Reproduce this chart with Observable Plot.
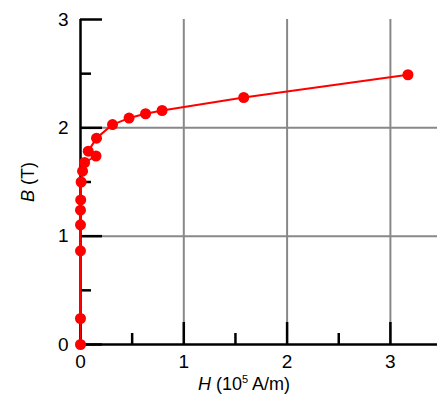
<!DOCTYPE html>
<html>
<head>
<meta charset="utf-8">
<script src="https://cdn.jsdelivr.net/npm/d3@7"></script>
<script src="https://cdn.jsdelivr.net/npm/@observablehq/plot@0.6"></script>
<style>
  html, body { margin: 0; padding: 0; background: #fff; }
  svg { display: block; }
</style>
</head>
<body>
<div id="chart"></div>
<script>
// Magnetisation curve data (H in 10^5 A/m, B in T)
const H = [0, 0, 0, 0, 0, 0.002, 0.006, 0.02, 0.04, 0.15, 0.075, 0.155, 0.31, 0.47, 0.63, 0.79, 1.58, 3.17];
const B = [0, 0.24, 0.865, 1.105, 1.24, 1.335, 1.50, 1.60, 1.68, 1.74, 1.785, 1.905, 2.03, 2.09, 2.13, 2.16, 2.28, 2.49];

const xMajor = [0, 1, 2, 3];
const xMinor = [0.5, 1.5, 2.5];
const yMajor = [0, 1, 2, 3];
const yMinor = [0.5, 1.5, 2.5];
const xGrid = [1, 2, 3];
const yGrid = [1, 2];

const xTitle = "H (10^5 A/m)";
const yTitle = "B (T)";

const data = H.map((h, i) => ({H: h, B: B[i]}));

const font = "'Liberation Sans', Arial, sans-serif";

const chart = Plot.plot({
  width: 437,
  height: 399,
  marginLeft: 80,
  marginRight: 0,
  marginTop: 19,
  marginBottom: 55,
  style: {fontFamily: font, fontSize: "19px", color: "#000", background: "#fff"},
  x: {domain: [0, 3.456]},
  y: {domain: [0, 3]},
  marks: [
    // grid
    Plot.ruleX(xGrid, {stroke: "#888", strokeWidth: 2}),
    Plot.ruleY(yGrid, {stroke: "#888", strokeWidth: 2}),
    // inward ticks
    Plot.axisY({ticks: yMajor, tickSize: -22, tickFormat: () => "", label: null, strokeWidth: 2.5, stroke: "#000"}),
    Plot.axisY({ticks: yMinor, tickSize: -11, tickFormat: () => "", label: null, strokeWidth: 2.5, stroke: "#000"}),
    Plot.axisX({ticks: xMajor, tickSize: -22, tickFormat: () => "", label: null, strokeWidth: 2.5, stroke: "#000"}),
    Plot.axisX({ticks: xMinor, tickSize: -11, tickFormat: () => "", label: null, strokeWidth: 2.5, stroke: "#000"}),
    // tick labels + titles
    Plot.axisY({ticks: yMajor, tickSize: 0, tickPadding: 12, tickFormat: d3.format("d"), label: yTitle, labelAnchor: "center", labelOffset: 59, labelArrow: "none", fontSize: 19}),
    Plot.axisX({ticks: xMajor, tickSize: 0, tickPadding: 10, tickFormat: d3.format("d"), label: xTitle, labelAnchor: "center", labelOffset: 45, labelArrow: "none", fontSize: 19}),
    // axis lines
    Plot.ruleX([0], {stroke: "#000", strokeWidth: 2.5}),
    Plot.ruleY([0], {stroke: "#000", strokeWidth: 2.5}),
    // data
    Plot.line(data, {x: "H", y: "B", stroke: "#ff0000", strokeWidth: 2}),
    Plot.dot(data, {x: "H", y: "B", r: 5.5, fill: "#ff0000", stroke: "none"})
  ]
});

document.getElementById("chart").appendChild(chart);

// Rich-text axis titles (italic symbol, superscript exponent)
const svg = d3.select(chart);
const xl = svg.select('g[aria-label="x-axis label"] text');
if (!xl.empty()) {
  xl.text(null).attr("dx", -15).attr("font-size", "18px");
  xl.append("tspan").attr("font-style", "italic").text("H");
  xl.append("tspan").text(" (10");
  xl.append("tspan").attr("font-size", "11px").attr("dy", "-7").text("5");
  xl.append("tspan").attr("dy", "7").text(" A/m)");
}
const yl = svg.select('g[aria-label="y-axis label"] text');
if (!yl.empty()) {
  yl.text(null).attr("font-size", "18px");
  yl.append("tspan").attr("font-style", "italic").text("B");
  yl.append("tspan").text(" (T)");
}
</script>
</body>
</html>
